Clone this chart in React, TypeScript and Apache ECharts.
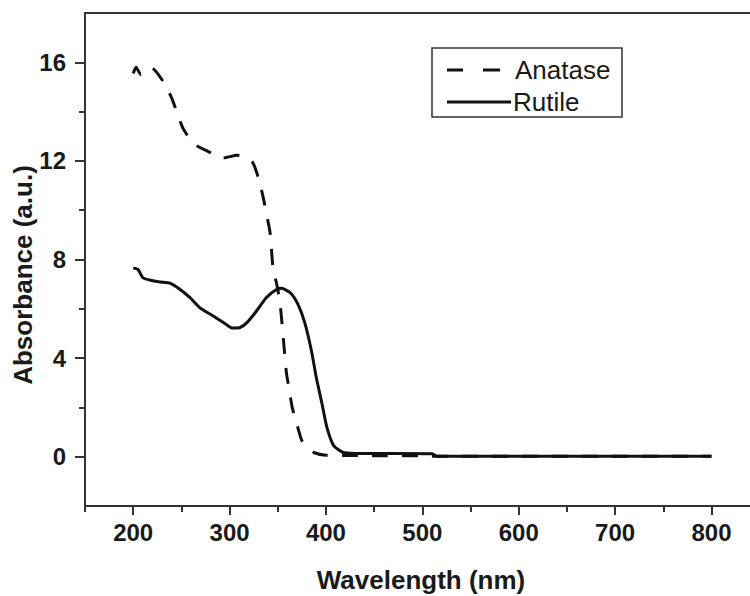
import React, { useEffect, useRef } from "react";
import * as echarts from "echarts";

const anataseX = [200, 203, 208, 219, 231, 240, 246, 252, 263, 277, 293, 308, 323, 330, 335, 338, 342, 345, 350, 353, 356, 359, 362, 365, 370, 375, 382, 388, 400, 420, 450, 500, 510, 600, 700, 800];
const anataseY = [15.55, 15.8, 15.5, 15.78, 15.23, 14.55, 13.9, 13.3, 12.69, 12.4, 12.12, 12.23, 12.0, 11.3, 10.5, 9.9, 9.1, 7.7, 6.8, 6.0, 4.7, 3.4, 2.7, 2.0, 1.3, 0.65, 0.35, 0.16, 0.06, 0.05, 0.04, 0.04, 0.02, 0.02, 0.02, 0.02];

const rutileX = [200, 205, 210, 217, 228, 238, 248, 259, 269, 283, 297, 303, 311, 318, 328, 338, 349, 354, 363, 371, 378, 385, 390, 396, 401, 408, 418, 430, 510, 515, 600, 700, 800];
const rutileY = [7.65, 7.6, 7.26, 7.17, 7.09, 7.04, 6.8, 6.45, 6.05, 5.71, 5.35, 5.22, 5.24, 5.44, 5.91, 6.45, 6.79, 6.83, 6.65, 6.18, 5.44, 4.29, 3.21, 2.13, 1.19, 0.45, 0.17, 0.13, 0.12, 0.02, 0.02, 0.02, 0.02];

const xMajorTicks = [200, 300, 400, 500, 600, 700, 800];
const xMinorTicks = [150, 250, 350, 450, 550, 650, 750];
const yMajorTicks = [0, 4, 8, 12, 16];
const yMinorTicks = [2, 6, 10, 14];

const seriesNames = ["Anatase", "Rutile"];
const xTitle = "Wavelength (nm)";
const yTitle = "Absorbance (a.u.)";

const FONT = "'Liberation Sans', Arial, sans-serif";
const AXIS_COLOR = "#333";
const INK = "#111";

export default function App() {
  const ref = useRef<HTMLDivElement>(null);
  useEffect(() => {
    document.body.style.margin = "0";
    if (!ref.current) return;
    const chart = echarts.init(ref.current, undefined, { renderer: "svg" });
    const zip = (xs: number[], ys: number[]) => xs.map((x, i) => [x, ys[i]]);
    const axisLine = { show: true, lineStyle: { color: AXIS_COLOR, width: 2 } };
    chart.setOption({
      animation: false,
      backgroundColor: "#fff",
      grid: { left: 85, top: 13, right: 0, bottom: 90, containLabel: false },
      xAxis: [
        {
          type: "value",
          min: 150,
          max: 840,
          position: "bottom",
          axisLine: { ...axisLine, onZero: false },
          splitLine: { show: false },
          axisTick: { show: true, length: 9, customValues: xMajorTicks, lineStyle: { color: AXIS_COLOR, width: 2 } },
          axisLabel: {
            customValues: xMajorTicks,
            margin: 14,
            fontSize: 24,
            fontWeight: "bold",
            fontFamily: FONT,
            color: "#1a1a1a",
          },
        },
        {
          type: "value",
          min: 150,
          max: 840,
          position: "bottom",
          axisLine: { show: false, onZero: false },
          splitLine: { show: false },
          axisTick: { show: true, length: 6, customValues: xMinorTicks, lineStyle: { color: AXIS_COLOR, width: 2 } },
          axisLabel: { show: false },
        },
        {
          type: "value",
          min: 150,
          max: 840,
          position: "top",
          axisLine: { ...axisLine, onZero: false },
          splitLine: { show: false },
          axisTick: { show: false },
          axisLabel: { show: false },
        },
      ],
      yAxis: [
        {
          type: "value",
          min: -2,
          max: 18,
          position: "left",
          axisLine: { ...axisLine, onZero: false },
          splitLine: { show: false },
          axisTick: { show: true, length: 10, customValues: yMajorTicks, lineStyle: { color: AXIS_COLOR, width: 2 } },
          axisLabel: {
            customValues: yMajorTicks,
            margin: 19,
            fontSize: 24,
            fontWeight: "bold",
            fontFamily: FONT,
            color: "#1a1a1a",
          },
        },
        {
          type: "value",
          min: -2,
          max: 18,
          position: "left",
          axisLine: { show: false, onZero: false },
          splitLine: { show: false },
          axisTick: { show: true, length: 6, customValues: yMinorTicks, lineStyle: { color: AXIS_COLOR, width: 2 } },
          axisLabel: { show: false },
        },
      ],
      series: [
        {
          name: seriesNames[0],
          type: "line",
          xAxisIndex: 0,
          yAxisIndex: 0,
          data: zip(anataseX, anataseY),
          showSymbol: false,
          symbol: "none",
          smooth: 0.2,
          lineStyle: { color: INK, width: 3, type: [16, 14] },
        },
        {
          name: seriesNames[1],
          type: "line",
          xAxisIndex: 0,
          yAxisIndex: 0,
          data: zip(rutileX, rutileY),
          showSymbol: false,
          symbol: "none",
          smooth: 0.2,
          lineStyle: { color: INK, width: 3 },
        },
      ],
      graphic: [
        {
          type: "text",
          x: 421,
          y: 580,
          style: {
            text: xTitle,
            fontSize: 26,
            fontWeight: "bold",
            fontFamily: FONT,
            fill: "#1a1a1a",
            align: "center",
            verticalAlign: "middle",
          },
        },
        {
          type: "text",
          x: 23,
          y: 275,
          rotation: Math.PI / 2,
          style: {
            text: yTitle,
            fontSize: 26,
            fontWeight: "bold",
            fontFamily: FONT,
            fill: "#1a1a1a",
            align: "center",
            verticalAlign: "middle",
          },
        },
        {
          type: "rect",
          shape: { x: 432, y: 48, width: 190, height: 69 },
          style: { fill: "#fff", stroke: AXIS_COLOR, lineWidth: 1.5 },
          z: 10,
        },
        {
          type: "line",
          shape: { x1: 447, y1: 70, x2: 463, y2: 70 },
          style: { stroke: INK, lineWidth: 3 },
          z: 11,
        },
        {
          type: "line",
          shape: { x1: 483, y1: 70, x2: 500, y2: 70 },
          style: { stroke: INK, lineWidth: 3 },
          z: 11,
        },
        {
          type: "text",
          x: 515,
          y: 70,
          style: {
            text: seriesNames[0],
            fontSize: 26,
            fontFamily: FONT,
            fill: "#1a1a1a",
            align: "left",
            verticalAlign: "middle",
          },
          z: 11,
        },
        {
          type: "line",
          shape: { x1: 447, y1: 102, x2: 511, y2: 102 },
          style: { stroke: INK, lineWidth: 3 },
          z: 11,
        },
        {
          type: "text",
          x: 513,
          y: 102,
          style: {
            text: seriesNames[1],
            fontSize: 26,
            fontFamily: FONT,
            fill: "#1a1a1a",
            align: "left",
            verticalAlign: "middle",
          },
          z: 11,
        },
      ],
    });
    return () => chart.dispose();
  }, []);
  return (
    <div
      ref={ref}
      style={{ position: "absolute", left: 0, top: 0, width: 750, height: 596 }}
    />
  );
}
